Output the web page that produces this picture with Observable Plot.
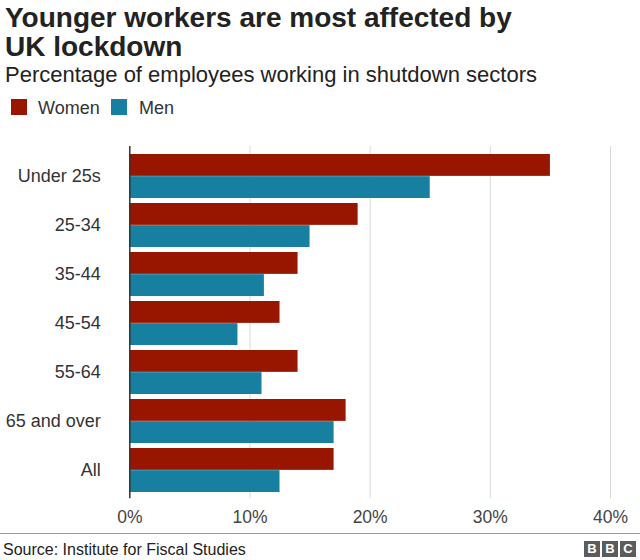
<!DOCTYPE html>
<html>
<head>
<meta charset="utf-8">
<script src="https://cdn.jsdelivr.net/npm/d3@7"></script>
<script src="https://cdn.jsdelivr.net/npm/@observablehq/plot@0.6"></script>
<style>
  html, body { margin: 0; padding: 0; background: #fff; }
  #root { position: relative; width: 640px; height: 560px; overflow: hidden; font-family: "Liberation Sans", Arial, Helvetica, sans-serif; color: #222; }
  .abs { position: absolute; white-space: nowrap; }
  #title { left: 5px; top: 2.8px; font-size: 28px; line-height: 29px; font-weight: bold; color: #222; }
  #subtitle { left: 5px; top: 62.4px; font-size: 22px; line-height: 26px; color: #222; }
  .sw { position: absolute; width: 16px; height: 16px; }
  .lg { position: absolute; top: 97.8px; font-size: 18px; line-height: 20px; color: #333; }
  #chart { position: absolute; left: 0; top: 140px; }
  #footline { position: absolute; left: 0; top: 532.5px; width: 640px; height: 1.5px; background: #9a9a9a; }
  #source { left: 3px; top: 540.5px; font-size: 16px; line-height: 18px; color: #222; }
  .bbc { position: absolute; top: 541px; width: 16px; height: 16px; background: #5c5c5c; color: #fff; font-weight: bold; font-size: 13px; line-height: 16px; text-align: center; }
</style>
</head>
<body>
<div id="root">
  <div id="title" class="abs">Younger workers are most affected by<br>UK lockdown</div>
  <div id="subtitle" class="abs">Percentage of employees working in shutdown sectors</div>
  <div id="legend"></div>
  <div id="chart"></div>
  <div id="footline"></div>
  <div id="source" class="abs">Source: Institute for Fiscal Studies</div>
  <div class="bbc" style="left:584px">B</div>
  <div class="bbc" style="left:602px">B</div>
  <div class="bbc" style="left:620px">C</div>
</div>
<script>
// ---- data ----
const categories = ["Under 25s", "25-34", "35-44", "45-54", "55-64", "65 and over", "All"];
const women = [35, 19, 14, 12.5, 14, 18, 17];
const men = [25, 15, 11.2, 9, 11, 17, 12.5];
const series = ["Women", "Men"];
const xTicks = [0, 10, 20, 30, 40];
const colors = ["#981500", "#1780a1"];

// legend
const legend = document.getElementById("legend");
const legendPos = [{sq: 11, tx: 38}, {sq: 111, tx: 139}];
series.forEach((s, i) => {
  const sw = document.createElement("div");
  sw.className = "sw";
  sw.style.left = legendPos[i].sq + "px";
  sw.style.top = "99px";
  sw.style.background = colors[i];
  legend.appendChild(sw);
  const t = document.createElement("div");
  t.className = "lg";
  t.style.left = legendPos[i].tx + "px";
  t.textContent = s;
  legend.appendChild(t);
});

const rows = [];
categories.forEach((c, i) => {
  rows.push({category: c, sex: "Women", value: women[i]});
  rows.push({category: c, sex: "Men", value: men[i]});
});

const W = 640, H = 390, mTop = 13.3, mBottom = 37.3, padInner = 0.1;
const step = (H - mTop - mBottom) / (categories.length - padInner);
const half = step * (1 - padInner) / 2;

const plot = Plot.plot({
  width: W,
  height: H,
  marginLeft: 129.3,
  marginRight: 30,
  marginTop: mTop,
  marginBottom: mBottom,
  style: {fontFamily: "'Liberation Sans', Arial, sans-serif", background: "transparent", color: "#333"},
  x: {domain: [0, 40], axis: null},
  y: {domain: categories, paddingInner: padInner, paddingOuter: 0, axis: null},
  marks: [
    Plot.ruleX(xTicks.slice(1), {stroke: "#d9d9d9", strokeWidth: 1, insetTop: -7.3, insetBottom: -5.6}),
    Plot.barX(rows.filter(d => d.sex === "Women"), {x: "value", y: "category", fill: colors[0], insetBottom: half}),
    Plot.barX(rows.filter(d => d.sex === "Men"), {x: "value", y: "category", fill: colors[1], insetTop: half}),
    Plot.ruleX([0], {stroke: "#333", strokeWidth: 1.5, insetTop: -7.3, insetBottom: -5.6}),
    Plot.axisX({ticks: xTicks, tickFormat: d => d + "%", tickSize: 0, tickPadding: 17, fontSize: 17.5, fill: "#444", label: null}),
    Plot.axisY({tickSize: 0, tickPadding: 29, fontSize: 18, fill: "#333", label: null})
  ]
});
document.getElementById("chart").appendChild(plot);
</script>
</body>
</html>
